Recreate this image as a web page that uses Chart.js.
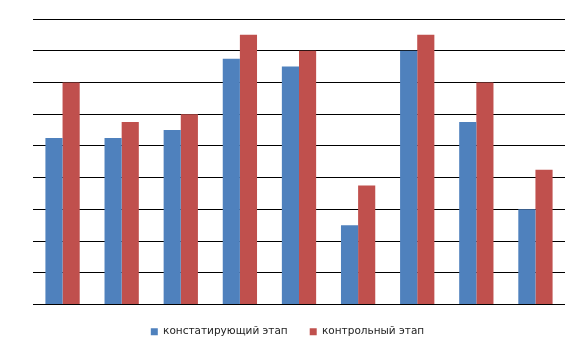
<!DOCTYPE html>
<html>
<head>
<meta charset="utf-8">
<script src="https://cdn.jsdelivr.net/npm/chart.js@4"></script>
<style>
  html, body { margin: 0; padding: 0; background: #fff; }
  #wrap { width: 569px; height: 351px; }
</style>
</head>
<body>
<div id="wrap"><canvas id="chart" width="569" height="351"></canvas></div>
<script>
// 9 groups, no category labels in the picture
let categories = ['', '', '', '', '', '', '', '', ''];
let seriesNames = ['констатирующий этап', 'контрольный этап'];
let stageOne = [5.25, 5.25, 5.5, 7.75, 7.5, 2.5, 8, 5.75, 3];
let stageTwo = [7, 5.75, 6, 8.5, 8, 3.75, 8.5, 7, 4.25];
let yMin = 0, yMax = 9, yStep = 1;

let ctx = document.getElementById('chart').getContext('2d');

let myChart = new Chart(ctx, {
  type: 'bar',
  data: {
    labels: categories,
    datasets: [
      {
        label: seriesNames[0],
        data: stageOne,
        backgroundColor: '#4F81BD',
        barPercentage: 1,
        categoryPercentage: 0.58
      },
      {
        label: seriesNames[1],
        data: stageTwo,
        backgroundColor: '#C0504D',
        barPercentage: 1,
        categoryPercentage: 0.58
      }
    ]
  },
  options: {
    responsive: false,
    animation: false,
    layout: {
      padding: { top: 19, left: 10, right: 4, bottom: 4 }
    },
    scales: {
      x: {
        display: false
      },
      y: {
        min: yMin,
        max: yMax,
        ticks: { display: false, stepSize: yStep },
        border: { display: false },
        grid: { color: '#000', lineWidth: 1, drawTicks: false },
        afterFit: function(scale){
          // empty axis strip so the plot starts where the original does
          scale.width = 23;
        }
      }
    },
    plugins: {
      tooltip: { enabled: false },
      legend: {
        position: 'bottom',
        labels: {
          boxWidth: 7,
          boxHeight: 7,
          padding: 22,
          color: '#222',
          font: { family: 'DejaVu Sans', size: 10.5 }
        }
      }
    }
  }
});
</script>
</body>
</html>
